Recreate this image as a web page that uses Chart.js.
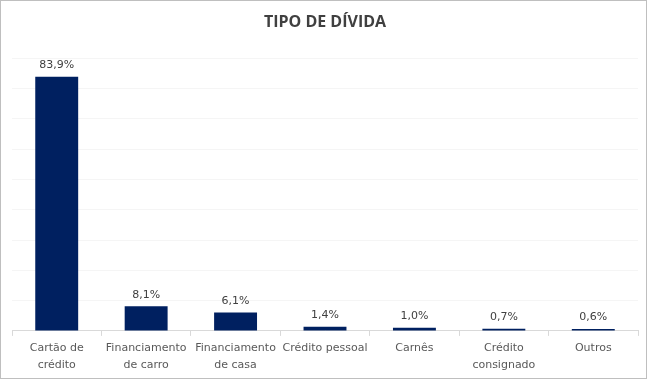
<!DOCTYPE html>
<html>
<head>
<meta charset="utf-8">
<script src="https://cdn.jsdelivr.net/npm/chart.js@4"></script>
<style>
html,body{margin:0;padding:0;background:#fff;}
#wrap{position:absolute;left:0;top:0;width:645px;height:377px;border:1px solid #bfbfbf;}
canvas{display:block;}
</style>
</head>
<body>
<div id="wrap"><canvas id="c" width="645" height="377"></canvas></div>
<script>
const categories = [["Cartão de","crédito"],["Financiamento","de carro"],["Financiamento","de casa"],"Crédito pessoal","Carnês",["Crédito","consignado"],"Outros"];
const values = [83.9, 8.1, 6.1, 1.4, 1.0, 0.7, 0.6];
const valueLabels = ["83,9%","8,1%","6,1%","1,4%","1,0%","0,7%","0,6%"];
const titleText = "TIPO DE DÍVIDA";

const dataLabels = {
  id:'dataLabels',
  afterDatasetsDraw(chart){
    const ctx = chart.ctx;
    const meta = chart.getDatasetMeta(0);
    ctx.save();
    ctx.font = '11px "DejaVu Sans", sans-serif';
    ctx.fillStyle = '#404040';
    ctx.textAlign = 'center';
    ctx.textBaseline = 'bottom';
    meta.data.forEach((bar,i)=>{
      ctx.fillText(valueLabels[i], bar.x, bar.y - 6);
    });
    ctx.restore();
  }
};

new Chart(document.getElementById('c'), {
  type:'bar',
  data:{labels:categories, datasets:[{data:values, backgroundColor:'#002060', barPercentage:0.48, categoryPercentage:1.0}]},
  options:{
    responsive:false,
    animation:false,
    devicePixelRatio:1,
    layout:{padding:{left:11,right:8,top:0,bottom:0}},
    plugins:{
      legend:{display:false},
      tooltip:{enabled:false},
      title:{display:true,text:titleText,color:'#404040',font:{family:'"Open Sans", sans-serif',size:16,weight:'bold'},padding:{top:12,bottom:26}}
    },
    scales:{
      x:{
        grid:{display:true,drawOnChartArea:false,offset:true,color:'#d9d9d9',tickLength:5},
        border:{color:'#d9d9d9'},
        ticks:{color:'#595959',font:{family:'"DejaVu Sans", sans-serif',size:11,lineHeight:1.55},maxRotation:0,autoSkip:false,padding:4}
      },
      y:{
        min:0,max:90,
        ticks:{display:false,stepSize:10},
        grid:{color:'#f5f5f5',drawTicks:false},
        border:{display:false}
      }
    }
  },
  plugins:[dataLabels]
});
</script>
</body>
</html>
